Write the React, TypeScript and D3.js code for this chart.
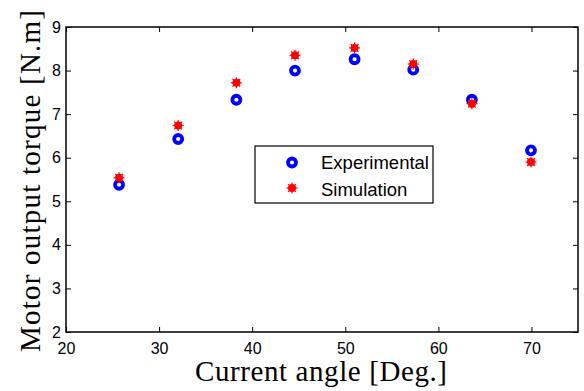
import React, { useRef, useEffect } from 'react';
import * as d3 from 'd3';

const angles = [25.7, 32.05, 38.3, 44.6, 51.0, 57.3, 63.6, 69.95];
const experimental = [5.38, 6.43, 7.33, 8.0, 8.26, 8.02, 7.33, 6.17];
const simulation = [5.54, 6.74, 7.72, 8.35, 8.52, 8.15, 7.24, 5.9];
const xTicks = [20, 30, 40, 50, 60, 70];
const yTicks = [2, 3, 4, 5, 6, 7, 8, 9];
const legendLabels = ['Experimental', 'Simulation'];

const width = 584;
const height = 391;
const margin = { left: 66, right: 6, top: 27, bottom: 59 };
const sans = 'Liberation Sans, Arial, sans-serif';
const serif = 'Liberation Serif, serif';

const App = () => {
  const svgRef = useRef<SVGSVGElement | null>(null);

  useEffect(() => {
    if (!svgRef.current) return;
    const svg = d3.select(svgRef.current);
    svg.selectAll('*').remove();

    const x = d3.scaleLinear().domain([20, 75]).range([margin.left, width - margin.right]);
    const y = d3.scaleLinear().domain([2, 9]).range([height - margin.bottom, margin.top]);

    const g = svg.append('g');
    const tickLen = 5;

    // box
    g.append('rect')
      .attr('x', x(20)).attr('y', y(9))
      .attr('width', x(75) - x(20)).attr('height', y(2) - y(9))
      .attr('fill', 'none').attr('stroke', '#000').attr('stroke-width', 1.5);

    // bottom & top ticks (inward)
    g.append('g')
      .attr('transform', `translate(0,${y(2)})`)
      .call(d3.axisBottom(x).tickValues(xTicks).tickSize(-tickLen).tickPadding(11).tickFormat(d3.format('d')))
      .call(a => a.select('.domain').remove())
      .call(a => a.selectAll('text').attr('font-family', sans).attr('font-size', 16).attr('fill', '#000'));
    g.append('g')
      .attr('transform', `translate(0,${y(9)})`)
      .call(d3.axisTop(x).tickValues(xTicks).tickSize(-tickLen).tickFormat(() => ''))
      .call(a => a.select('.domain').remove());

    // left & right ticks
    g.append('g')
      .attr('transform', `translate(${x(20)},0)`)
      .call(d3.axisLeft(y).tickValues(yTicks).tickSize(-tickLen).tickPadding(5).tickFormat(d3.format('d')))
      .call(a => a.select('.domain').remove())
      .call(a => a.selectAll('text').attr('font-family', sans).attr('font-size', 16).attr('fill', '#000'));
    g.append('g')
      .attr('transform', `translate(${x(75)},0)`)
      .call(d3.axisRight(y).tickValues(yTicks).tickSize(-tickLen).tickFormat(() => ''))
      .call(a => a.select('.domain').remove());

    // simulation marker: red filled asterisk blob
    const drawSim = (sel: any, cx: number, cy: number) => {
      const m = sel.append('g').attr('transform', `translate(${cx},${cy})`);
      m.append('circle').attr('r', 4).attr('fill', '#ff0000');
      [0, 45, 90, 135].forEach(a => {
        const r = 5.5;
        const rad = (a * Math.PI) / 180;
        m.append('line')
          .attr('x1', -r * Math.cos(rad)).attr('y1', -r * Math.sin(rad))
          .attr('x2', r * Math.cos(rad)).attr('y2', r * Math.sin(rad))
          .attr('stroke', '#ff0000').attr('stroke-width', 1.2);
      });
    };
    const drawExp = (sel: any, cx: number, cy: number) => {
      sel.append('circle')
        .attr('cx', cx).attr('cy', cy).attr('r', 4)
        .attr('fill', 'none').attr('stroke', '#0000ff').attr('stroke-width', 3.8);
    };

    angles.forEach((a, i) => {
      drawExp(g, x(a), y(experimental[i]));
      drawSim(g, x(a), y(simulation[i]));
    });

    // legend
    const lg = g.append('g').attr('transform', 'translate(255,146)');
    lg.append('rect').attr('width', 178).attr('height', 57)
      .attr('fill', '#fff').attr('stroke', '#000').attr('stroke-width', 1.2);
    drawExp(lg, 37, 16.5);
    drawSim(lg, 37, 42);
    legendLabels.forEach((t, i) => {
      lg.append('text')
        .attr('x', 66).attr('y', 22.5 + i * 27)
        .attr('font-family', sans).attr('font-size', 18.5)
        .text(t);
    });

    // axis titles
    svg.append('text')
      .attr('x', 321).attr('y', 381)
      .attr('text-anchor', 'middle')
      .attr('font-family', serif).attr('font-size', 29)
      .attr('textLength', 252).attr('lengthAdjust', 'spacing')
      .text('Current angle [Deg.]');
    svg.append('text')
      .attr('transform', 'translate(40,181) rotate(-90)')
      .attr('text-anchor', 'middle')
      .attr('font-family', serif).attr('font-size', 29)
      .attr('textLength', 342).attr('lengthAdjust', 'spacing')
      .text('Motor output torque [N.m]');
  }, []);

  return (
    <svg
      ref={svgRef}
      width={width}
      height={height}
      style={{ position: 'absolute', left: 0, top: 0, background: '#fff' }}
    />
  );
};

export default App;
